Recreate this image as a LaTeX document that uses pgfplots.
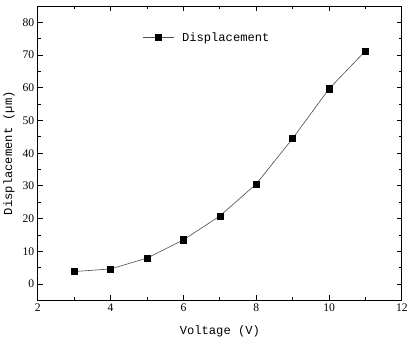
\documentclass[border=0pt]{standalone}
\usepackage{pgfplots}
\pgfplotsset{compat=1.18}
\usepackage{fontspec}
\setmainfont{Liberation Serif}
\newfontfamily\monof{Liberation Mono}
\begin{document}
\begin{tikzpicture}
\begin{axis}[
  scale only axis,
  width=360pt, height=291pt,
  xmin=2, xmax=12, ymin=-5, ymax=85,
  xtick={2,4,...,12}, ytick={0,10,...,80},
  minor x tick num=1, minor y tick num=1,
  tick align=inside,
  major tick length=5pt, minor tick length=3pt,
  axis line style={line width=1pt},
  every tick/.style={black, line width=0.8pt},
  tick label style={font=\fontsize{11.5}{13}\selectfont},
  /pgf/number format/assume math mode=true,
  xlabel={\monof Voltage (V)},
  ylabel={\monof Displacement (\textmu m)},
  label style={font=\fontsize{12}{14}\selectfont},
  xlabel style={at={(axis description cs:0.5,0)}, anchor=center, yshift=-31pt},
  ylabel style={at={(axis description cs:0,0.5)}, anchor=center, yshift=28.5pt},
  legend style={draw=none, fill=none, at={(0.28,0.893)}, anchor=west, font=\fontsize{12}{14}\selectfont\monof},
  legend cell align=left,
  legend image code/.code={
    \draw[black!70, line width=0.6pt] (0pt,0pt) -- (30pt,0pt);
    \fill[black] (12pt,-3pt) rectangle (18pt,3pt);
    \path (36pt,0pt);
  },
]
\addplot[black!70, line width=0.6pt, mark=square*, mark size=3pt, mark options={fill=black, draw=black}]
coordinates {(3,3.8) (4,4.6) (5,7.9) (6,13.5) (7,20.8) (8,30.6) (9,44.5) (10,59.7) (11,71.3)};
\addlegendentry{Displacement}
\end{axis}
\path ([shift={(10pt,6pt)}]current axis.north east);
\end{tikzpicture}
\end{document}
